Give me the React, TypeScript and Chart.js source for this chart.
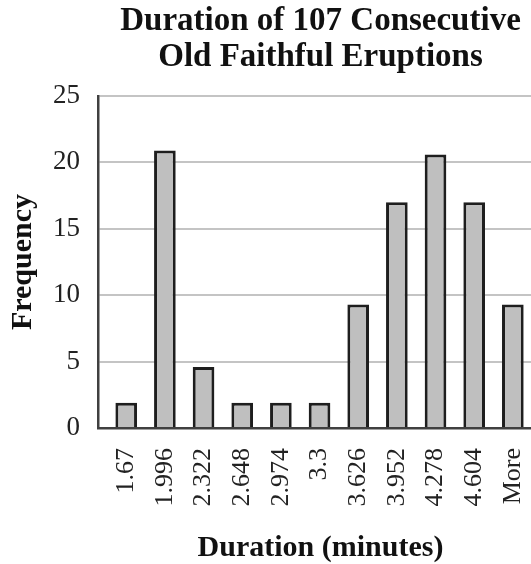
import React, { useEffect, useRef } from "react";
import { Chart, registerables } from "chart.js";

Chart.register(...registerables);

const TITLE_LINES = ["Duration of 107 Consecutive", "Old Faithful Eruptions"];
const CATEGORIES = ["1.67", "1.996", "2.322", "2.648", "2.974", "3.3", "3.626", "3.952", "4.278", "4.604", "More"];
const FREQUENCY = [1.9, 20.9, 4.6, 1.9, 1.9, 1.9, 9.3, 17, 20.6, 17, 9.3];
const Y_TICKS = [0, 5, 10, 15, 20, 25];
const X_TITLE = "Duration (minutes)";
const Y_TITLE = "Frequency";

const SERIF = "'Liberation Serif', 'Times New Roman', serif";

export default function App() {
  const ref = useRef<HTMLCanvasElement | null>(null);

  useEffect(() => {
    document.body.style.margin = "0";
    const canvas = ref.current;
    if (!canvas) return;
    const chart = new Chart(canvas, {
      type: "bar",
      data: {
        datasets: [
          {
            data: FREQUENCY.map((v, i) => ({ x: i, y: v })),
            backgroundColor: "#bfbfbf",
            borderColor: "#1e1e1e",
            borderWidth: 3,
            borderSkipped: "start",
            barPercentage: 0.56,
            categoryPercentage: 1,
          },
        ],
      },
      options: {
        responsive: false,
        animation: false,
        devicePixelRatio: 1,
        layout: { padding: 0 },
        plugins: {
          legend: { display: false },
          tooltip: { enabled: false },
          title: {
            display: true,
            text: TITLE_LINES,
            fullSize: false,
            color: "#111111",
            font: { family: SERIF, size: 33, weight: "bold", lineHeight: "36px" },
            padding: { top: 3, bottom: 21 },
          },
        },
        scales: {
          x: {
            type: "linear",
            offset: false,
            min: -0.73,
            max: 10.78,
            afterBuildTicks: (scale: any) => {
              scale.ticks = CATEGORIES.map((_, i) => ({ value: i }));
            },
            afterFit: (scale: any) => {
              scale.height = 136;
              scale.paddingLeft = 0;
              scale.paddingRight = 0;
            },
            grid: { display: false, drawTicks: false },
            border: { display: true, color: "#404040", width: 2.5 },
            ticks: {
              autoSkip: false,
              minRotation: 90,
              maxRotation: 90,
              padding: 20,
              color: "#222222",
              font: { family: SERIF, size: 26 },
              callback: (value: any) => CATEGORIES[Number(value)] ?? "",
            },
            title: {
              display: true,
              text: X_TITLE,
              color: "#111111",
              font: { family: SERIF, size: 30, weight: "bold", lineHeight: 1 },
              padding: { top: 0, bottom: 1 },
            },
          },
          y: {
            min: 0,
            max: 25,
            afterBuildTicks: (scale: any) => {
              scale.ticks = Y_TICKS.map((v) => ({ value: v }));
            },
            afterFit: (scale: any) => {
              scale.width = 98;
            },
            grid: { color: "#c4c4c4", lineWidth: 2, drawTicks: false },
            border: { display: true, color: "#404040", width: 2.5 },
            ticks: {
              padding: 18,
              color: "#222222",
              font: { family: SERIF, size: 27 },
            },
            title: {
              display: true,
              text: Y_TITLE,
              color: "#111111",
              font: { family: SERIF, size: 30, weight: "bold", lineHeight: 1 },
              padding: { top: 8, bottom: 0 },
            },
          },
        },
      },
    });
    return () => chart.destroy();
  }, []);

  return (
    <div style={{ width: 531, height: 564, overflow: "hidden" }}>
      <canvas ref={ref} width={543} height={564} style={{ display: "block" }} />
    </div>
  );
}
